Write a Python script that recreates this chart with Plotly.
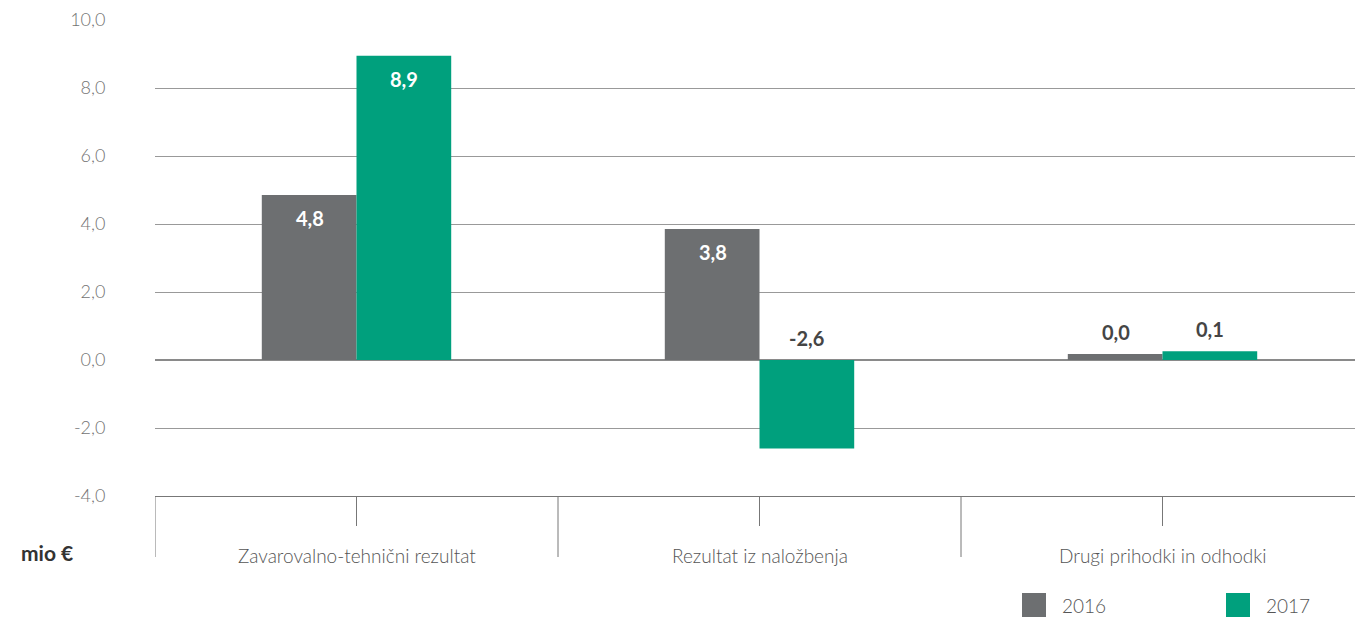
import plotly.graph_objects as go

categories = ["Zavarovalno-tehnični rezultat", "Rezultat iz naložbenja", "Drugi prihodki in odhodki"]
values_2016 = [4.85, 3.85, 0.18]
values_2017 = [8.95, -2.6, 0.26]
labels_2016 = ["4,8", "3,8", "0,0"]
labels_2017 = ["8,9", "-2,6", "0,1"]
series_names = ["2016", "2017"]
y_ticks = [-4, -2, 0, 2, 4, 6, 8, 10]
y_tick_labels = ["-4,0", "-2,0", "0,0", "2,0", "4,0", "6,0", "8,0", "10,0"]

GRAY = "#6d6f71"
GREEN = "#00a07d"
FONT = "Lato"

# Body margin is removed by a small post script, so figure pixels = screenshot pixels.
W, H = 1355, 619
PLOT_L, PLOT_T, PLOT_B = 155, 20, 496
PLOT_R = W
PLOT_W, PLOT_H = PLOT_R - PLOT_L, PLOT_B - PLOT_T
CAT_PX = 403
X_RANGE = [-0.5, -0.5 + PLOT_W / CAT_PX]


def px_to_paper_x(px):
    return (px - PLOT_L) / PLOT_W


def px_to_paper_y(py):
    return (PLOT_B - py) / PLOT_H


fig = go.Figure()
x_idx = list(range(len(categories)))
fig.add_trace(go.Bar(x=x_idx, y=values_2016, name=series_names[0],
                     marker=dict(color=GRAY, line=dict(width=0)), showlegend=False))
fig.add_trace(go.Bar(x=x_idx, y=values_2017, name=series_names[1],
                     marker=dict(color=GREEN, line=dict(width=0)), showlegend=False))

annotations = []
for series, labels, shift in [(values_2016, labels_2016, -47), (values_2017, labels_2017, 47)]:
    for i, (v, lab) in enumerate(zip(series, labels)):
        if v > 1:
            annotations.append(dict(x=i, y=v, xref="x", yref="y", text=f"<b>{lab}</b>", showarrow=False,
                                    xshift=shift, yshift=-23,
                                    font=dict(family=FONT, size=20, color="white")))
        else:
            annotations.append(dict(x=i, y=max(v, 0), xref="x", yref="y", text=f"<b>{lab}</b>", showarrow=False,
                                    xshift=shift, yshift=22,
                                    font=dict(family=FONT, size=20, color="#454545")))

for i, c in enumerate(categories):
    annotations.append(dict(x=i, y=px_to_paper_y(555), xref="x", yref="paper", text=c, showarrow=False,
                            yanchor="middle",
                            font=dict(family=FONT, size=19, color="#555555", weight=300)))

annotations.append(dict(x=px_to_paper_x(47), y=px_to_paper_y(552), xref="paper", yref="paper",
                        xanchor="center", yanchor="middle", text="<b>mio €</b>", showarrow=False,
                        font=dict(family=FONT, size=21, color="#333333")))

shapes = []
for b in [-0.5, 0.5, 1.5, 2.5]:
    shapes.append(dict(type="line", xref="x", yref="paper", x0=b, x1=b, y0=0, y1=px_to_paper_y(557),
                       line=dict(color="#777777", width=1)))
for i in x_idx:
    shapes.append(dict(type="line", xref="x", yref="paper", x0=i, x1=i, y0=0, y1=px_to_paper_y(526),
                       line=dict(color="#777777", width=1)))

# legend (drawn manually)
for name, color, sx in [(series_names[0], GRAY, 1022), (series_names[1], GREEN, 1226)]:
    shapes.append(dict(type="rect", xref="paper", yref="paper",
                       x0=px_to_paper_x(sx), x1=px_to_paper_x(sx + 24),
                       y0=px_to_paper_y(617), y1=px_to_paper_y(593),
                       fillcolor=color, line=dict(width=0)))
    annotations.append(dict(x=px_to_paper_x(sx + 38), y=px_to_paper_y(605), xref="paper", yref="paper",
                            xanchor="left", yanchor="middle", text=name, showarrow=False,
                            font=dict(family=FONT, size=19, color="#555555", weight=300)))

fig.update_layout(
    width=W, height=H,
    margin=dict(l=PLOT_L, r=W - PLOT_R, t=PLOT_T, b=H - PLOT_B),
    plot_bgcolor="white", paper_bgcolor="white",
    barmode="group", bargap=0.53, bargroupgap=0,
    font=dict(family=FONT),
    hovermode=False,
    xaxis=dict(range=X_RANGE, showticklabels=False, showgrid=False, zeroline=False,
               showline=True, linecolor="#777777", linewidth=1, ticks=""),
    yaxis=dict(range=[-4, 10], tickvals=y_ticks, ticktext=y_tick_labels, showgrid=True,
               gridcolor="#999999", gridwidth=1, zeroline=True, zerolinecolor="#8a8a8a", zerolinewidth=1.5,
               showline=False, ticks="outside", ticklen=45, tickcolor="rgba(0,0,0,0)",
               tickfont=dict(family=FONT, size=18, color="#737373", weight=300)),
    annotations=annotations, shapes=shapes,
)

fig.write_html("out.html", config={"displayModeBar": False},
               post_script="document.body.style.margin='0';document.body.style.overflow='hidden';")
